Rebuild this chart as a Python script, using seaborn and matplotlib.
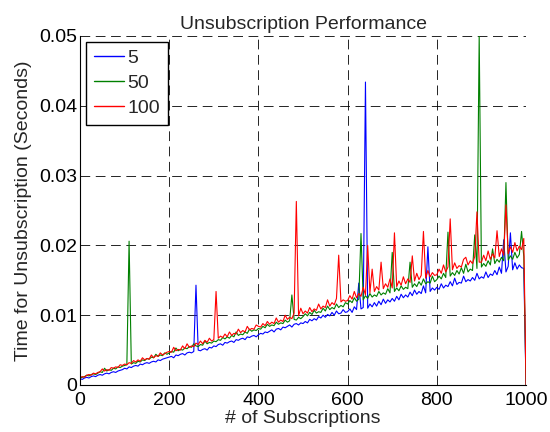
import numpy as np
import pandas as pd
import seaborn as sns
import matplotlib
matplotlib.use("Agg")
import matplotlib.pyplot as plt
from matplotlib.lines import Line2D

# subscriptions sampled every 5, last point (1000) drops back to zero
subs = list(range(0, 1000, 5)) + [1000]

# times in milliseconds
blue_ms = [
    0.9, 0.8, 1.0, 1.1, 1.0, 1.2, 1.3, 1.2, 1.4, 1.5, 1.4, 1.6, 1.7, 1.6, 1.8, 1.9, 1.8, 2.0, 2.1, 2.2,
    2.4, 2.3, 2.6, 2.5, 2.7, 2.8, 2.7, 3.0, 2.9, 3.1, 3.2, 3.1, 3.3, 3.4, 3.3, 3.6, 3.5, 3.7, 3.8, 3.9,
    4.0, 4.1, 3.9, 4.3, 4.2, 4.4, 4.5, 4.3, 4.6, 4.7, 4.6, 4.8, 14.3, 5.0, 4.9, 5.1, 5.2, 5.0, 5.4, 5.3,
    5.6, 5.5, 5.8, 5.9, 5.7, 6.1, 6.0, 6.2, 6.3, 6.1, 6.5, 6.4, 6.6, 6.7, 6.5, 6.9, 6.8, 7.0, 7.1, 6.9,
    7.2, 7.4, 7.3, 7.6, 7.5, 7.7, 7.9, 7.6, 8.0, 8.1, 7.9, 8.3, 8.2, 8.4, 8.6, 8.3, 8.7, 8.8, 8.6, 8.9,
    8.8, 9.1, 8.9, 9.4, 9.2, 9.5, 9.3, 9.8, 9.6, 10.0, 9.7, 10.1, 9.9, 10.4, 10.0, 10.6, 10.2, 10.3, 10.8, 10.4,
    10.5, 10.9, 10.4, 11.2, 10.8, 14.6, 10.9, 11.1, 43.4, 11.0, 11.6, 11.2, 11.8, 11.3, 12.0, 11.5, 12.3, 11.7, 12.2, 11.9,
    12.4, 12.0, 12.7, 12.2, 13.0, 12.5, 12.9, 12.6, 13.3, 12.8, 13.6, 13.0, 13.4, 13.1, 14.2, 13.2, 19.8, 13.4, 13.9, 13.6,
    14.0, 13.7, 14.5, 13.9, 14.3, 14.1, 14.8, 14.2, 15.3, 14.4, 14.7, 14.6, 15.6, 14.8, 15.1, 14.9, 15.4, 15.0, 16.0, 15.2,
    15.5, 15.3, 16.2, 15.4, 15.9, 15.7, 16.4, 15.8, 16.9, 16.0, 20.8, 16.2, 17.0, 21.8, 16.5, 17.5, 16.6, 17.2, 16.8, 16.7,
    0.0]

green_ms = [
    1.0, 1.1, 1.2, 1.4, 1.3, 1.5, 1.6, 1.5, 1.7, 1.9, 1.8, 2.4, 2.0, 2.2, 2.1, 2.4, 2.3, 2.6, 2.5, 2.7,
    2.8, 2.9, 20.6, 3.0, 3.2, 3.1, 3.4, 3.3, 3.6, 3.5, 3.8, 3.7, 4.0, 3.9, 4.4, 4.1, 4.3, 4.2, 4.6, 4.4,
    4.6, 4.8, 4.7, 5.3, 4.9, 5.1, 5.0, 5.3, 5.2, 5.5, 5.4, 5.9, 5.6, 5.5, 5.8, 5.7, 6.3, 5.9, 6.1, 6.0,
    6.3, 6.2, 6.5, 6.4, 6.8, 6.6, 6.9, 6.7, 7.1, 6.9, 7.6, 7.1, 7.3, 7.2, 7.6, 7.4, 8.0, 7.7, 7.9, 7.8,
    8.1, 8.0, 8.4, 8.2, 8.7, 8.4, 8.6, 8.5, 9.0, 8.7, 8.9, 8.8, 9.3, 9.0, 9.2, 12.9, 9.4, 9.3, 9.7, 9.5,
    9.8, 10.2, 9.9, 10.4, 10.1, 10.7, 10.3, 10.5, 10.4, 11.0, 10.6, 11.3, 10.8, 11.1, 10.9, 11.6, 11.1, 11.4, 11.2, 11.8,
    11.6, 12.1, 11.8, 12.5, 12.0, 12.3, 21.7, 12.2, 12.8, 12.4, 13.1, 12.6, 12.9, 12.7, 13.4, 12.9, 13.2, 13.0, 13.8, 13.2,
    19.0, 13.4, 13.9, 13.5, 14.2, 13.7, 14.0, 13.8, 17.6, 14.0, 14.5, 14.1, 14.8, 14.3, 15.2, 14.5, 14.8, 14.6, 15.6, 14.8,
    15.1, 15.6, 15.2, 16.0, 15.4, 21.9, 15.6, 16.1, 15.7, 16.4, 15.9, 16.8, 16.0, 17.3, 16.2, 16.6, 16.4, 21.5, 16.7, 50.0,
    16.9, 17.4, 17.0, 17.8, 17.2, 19.5, 17.4, 18.0, 17.6, 18.3, 17.8, 29.0, 17.9, 18.5, 18.0, 19.0, 18.2, 18.7, 22.0, 18.4,
    0.0]

red_ms = [
    1.1, 1.2, 1.1, 1.4, 1.5, 1.4, 1.7, 1.6, 1.8, 1.9, 2.3, 2.0, 2.2, 2.1, 2.5, 2.4, 2.6, 2.5, 2.9, 2.8,
    3.0, 2.9, 3.2, 3.1, 3.5, 3.3, 3.6, 3.4, 3.9, 3.6, 3.8, 3.7, 4.3, 3.9, 4.2, 4.1, 4.6, 4.3, 4.5, 4.7,
    4.8, 4.7, 5.4, 4.9, 5.1, 5.0, 5.6, 5.2, 5.9, 5.4, 5.6, 5.5, 6.0, 5.8, 6.3, 5.9, 6.4, 6.1, 6.7, 6.3,
    6.5, 13.4, 6.7, 7.0, 6.8, 7.3, 6.9, 7.6, 7.1, 7.4, 7.3, 8.0, 7.5, 7.8, 7.6, 8.4, 7.9, 8.1, 8.0, 8.6,
    8.4, 8.3, 8.8, 8.5, 9.1, 8.7, 9.0, 8.8, 9.6, 9.0, 9.3, 9.1, 10.0, 9.4, 9.7, 9.5, 10.3, 26.3, 9.9, 11.0,
    10.2, 10.6, 10.3, 11.1, 10.5, 10.9, 10.7, 11.6, 10.9, 11.3, 11.1, 12.2, 11.3, 11.8, 11.5, 12.4, 18.6, 11.9, 12.2, 12.0,
    12.1, 12.8, 12.3, 13.4, 12.5, 13.1, 12.7, 14.0, 12.9, 20.0, 13.2, 16.6, 13.4, 14.1, 13.6, 17.6, 13.8, 14.5, 14.0, 15.2,
    13.9, 21.8, 14.1, 14.9, 14.3, 15.5, 14.5, 15.2, 14.7, 18.5, 14.9, 16.0, 15.1, 15.7, 22.0, 15.3, 16.4, 15.5, 16.1, 15.7,
    15.8, 16.6, 16.0, 17.2, 16.2, 16.9, 23.8, 16.5, 17.5, 16.7, 17.1, 16.9, 18.0, 18.3, 17.2, 17.8, 17.4, 18.4, 24.8, 17.6,
    17.6, 18.6, 17.8, 19.2, 18.0, 18.8, 18.2, 22.1, 18.4, 19.5, 18.6, 25.8, 18.8, 19.8, 19.0, 20.4, 19.2, 19.9, 19.4, 21.0,
    0.0]

series_names = ["5", "50", "100"]
series_colors = ["#0000ff", "#008000", "#ff0000"]

frames = []
for name, vals in zip(series_names, [blue_ms, green_ms, red_ms]):
    frames.append(pd.DataFrame({"subs": subs,
                                "time": np.array(vals) / 1000.0,
                                "series": name}))
df = pd.concat(frames, ignore_index=True)

sns.set_style("white")
plt.rcParams["font.family"] = ["Liberation Sans", "DejaVu Sans"]
plt.rcParams["lines.scale_dashes"] = False

fig = plt.figure(figsize=(5.5, 4.32), dpi=100)
ax = fig.add_axes([0.1455, 0.1088, 0.8109, 0.8079])

sns.lineplot(data=df, x="subs", y="time", hue="series",
             hue_order=series_names, palette=series_colors,
             linewidth=0.8, ax=ax, estimator=None, sort=False, legend=False)

ax.set_xlim(0, 1000)
ax.set_ylim(0, 0.05)
ax.set_xticks([0, 200, 400, 600, 800, 1000])
ax.set_yticks([0, 0.01, 0.02, 0.03, 0.04, 0.05])
ax.set_yticklabels(["0", "0.01", "0.02", "0.03", "0.04", "0.05"])

ax.grid(True, color="black", linestyle=(0, (7, 4)), linewidth=0.6)
ax.set_axisbelow(True)
for s in ["top", "right"]:
    ax.spines[s].set_visible(False)
for s in ["left", "bottom"]:
    ax.spines[s].set_color("black")
    ax.spines[s].set_linewidth(0.8)
ax.tick_params(direction="in", length=4, width=0.6, labelsize=14, colors="black")
ax.tick_params(axis="x", pad=5)
ax.tick_params(axis="y", pad=2)

ax.set_xlabel("# of Subscriptions", fontsize=14, labelpad=1)
ax.set_ylabel("Time for Unsubscription (Seconds)", fontsize=14, labelpad=5)
ax.set_title("Unsubscription Performance", fontsize=14, pad=5)

handles = [Line2D([], [], color=c, linewidth=1.0) for c in series_colors]
leg = ax.legend(handles, series_names, loc="upper left", fontsize=14, frameon=True,
                fancybox=False, framealpha=1, edgecolor="black", handlelength=1.55,
                borderaxespad=0.3, labelspacing=0.38, handletextpad=0.2, borderpad=0.4)
leg.get_frame().set_linewidth(1.0)

fig.savefig("out.png", dpi=100)
